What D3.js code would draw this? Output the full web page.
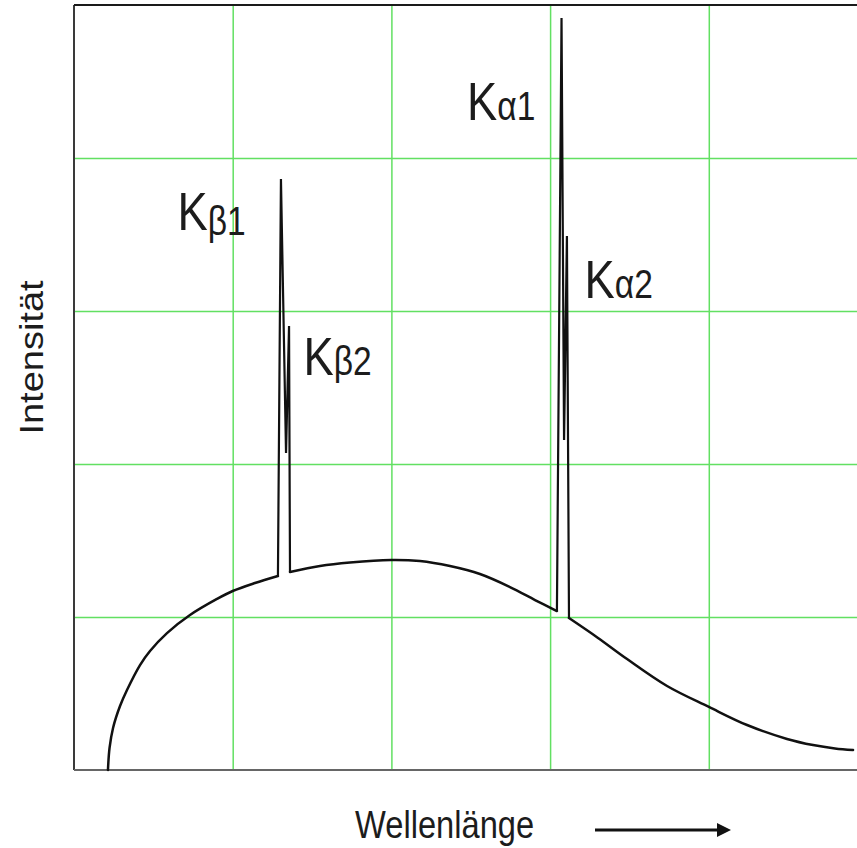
<!DOCTYPE html>
<html>
<head>
<meta charset="utf-8">
<script src="https://cdn.jsdelivr.net/npm/d3@7"></script>
<style>
  body { margin: 0; background: #fff; }
  svg { display: block; }
  text { font-family: "Liberation Sans", Arial, sans-serif; fill: #1c1c1c; }
</style>
</head>
<body>
<div class="svg-container"></div>
<script>
// grid lines, in units of one grid cell
const gridX = [1, 2, 3, 4];
const gridY = [1, 2, 3, 4];

// continuum (Bremsstrahlung), split in three pieces by the characteristic lines
const contLeftX = [0.214, 0.224, 0.246, 0.290, 0.334, 0.416, 0.479, 0.586, 0.731, 0.901, 1.0, 1.140, 1.285];
const contLeftY = [0, 0.144, 0.275, 0.418, 0.523, 0.686, 0.778, 0.895, 1.013, 1.118, 1.170, 1.222, 1.268];
const contMidX = [1.361, 1.550, 1.739, 1.997, 2.180, 2.369, 2.558, 2.747, 2.905, 3.043];
const contMidY = [1.294, 1.333, 1.356, 1.373, 1.366, 1.333, 1.281, 1.196, 1.111, 1.039];
const contRightX = [3.119, 3.302, 3.485, 3.737, 4.001, 4.241, 4.493, 4.657, 4.795, 4.909];
const contRightY = [0.993, 0.863, 0.725, 0.549, 0.412, 0.294, 0.203, 0.163, 0.141, 0.131];

// K-beta and K-alpha lines: base, peak 1, dip, peak 2, base
const kBetaX = [1.285, 1.304, 1.336, 1.355, 1.361];
const kBetaY = [1.268, 3.863, 2.072, 2.902, 1.294];
const kAlphaX = [3.043, 3.072, 3.088, 3.106, 3.119];
const kAlphaY = [1.039, 4.915, 2.157, 3.490, 0.993];

// labels
const labelMain = ['K', 'K', 'K', 'K'];
const labelSub = ['\u03B21', '\u03B22', '\u03B11', '\u03B12'];

const width = 857;
const height = 848;
const plot = { left: 74, top: 5, right: 867.5, bottom: 770 };

const svg = d3.select('.svg-container')
  .append('svg')
  .attr('width', width)
  .attr('height', height);

const x = d3.scaleLinear().domain([0, 5]).range([plot.left, plot.right]);
const y = d3.scaleLinear().domain([0, 5]).range([plot.bottom, plot.top]);

// green grid, drawn with axes
svg.append('g')
  .attr('transform', `translate(0, ${plot.bottom})`)
  .call(d3.axisBottom(x).tickValues(gridX).tickSize(-(plot.bottom - plot.top)).tickFormat(''))
  .call(g => g.select('.domain').remove())
  .call(g => g.selectAll('line').attr('stroke', '#62e062').attr('stroke-width', 1.5));

svg.append('g')
  .attr('transform', `translate(${plot.left}, 0)`)
  .call(d3.axisLeft(y).tickValues(gridY).tickSize(-(plot.right - plot.left)).tickFormat(''))
  .call(g => g.select('.domain').remove())
  .call(g => g.selectAll('line').attr('stroke', '#62e062').attr('stroke-width', 1.5));

// frame: left, bottom and top
svg.append('line')
  .attr('x1', plot.left).attr('x2', plot.left).attr('y1', plot.top).attr('y2', plot.bottom)
  .attr('stroke', '#3a3a3a').attr('stroke-width', 2);
svg.append('line')
  .attr('x1', plot.left).attr('x2', plot.right).attr('y1', plot.bottom).attr('y2', plot.bottom)
  .attr('stroke', '#666').attr('stroke-width', 2);
svg.append('line')
  .attr('x1', plot.left).attr('x2', plot.right).attr('y1', plot.top).attr('y2', plot.top)
  .attr('stroke', '#1a1a1a').attr('stroke-width', 2);

const zip = (xs, ys) => xs.map((v, i) => [v, ys[i]]);

const smooth = d3.line().x(d => x(d[0])).y(d => y(d[1])).curve(d3.curveCatmullRom.alpha(0.5));
const straight = d3.line().x(d => x(d[0])).y(d => y(d[1]));

[zip(contLeftX, contLeftY), zip(contMidX, contMidY), zip(contRightX, contRightY)].forEach(pts => {
  svg.append('path')
    .attr('d', smooth(pts))
    .attr('fill', 'none')
    .attr('stroke', '#111')
    .attr('stroke-width', 2.5)
    .attr('stroke-linecap', 'round');
});

[zip(kBetaX, kBetaY), zip(kAlphaX, kAlphaY)].forEach(pts => {
  svg.append('path')
    .attr('d', straight(pts))
    .attr('fill', 'none')
    .attr('stroke', '#111')
    .attr('stroke-width', 2.2)
    .attr('stroke-linejoin', 'miter');
});

// peak labels
const labelPos = [[177.5, 230, 5], [303.5, 375, 0], [467, 120, 0], [584.5, 298, 0]];
labelMain.forEach((m, i) => {
  const [lx, ly, shift] = labelPos[i];
  const t = svg.append('text')
    .attr('transform', `translate(${lx}, ${ly}) scale(0.84, 1)`);
  t.append('tspan').attr('font-size', 54).text(m);
  t.append('tspan').attr('font-size', 40).attr('dy', shift).text(labelSub[i]);
});

// axis titles
svg.append('text')
  .attr('transform', 'translate(43, 357.5) scale(0.86, 1) rotate(-90)')
  .attr('text-anchor', 'middle')
  .attr('font-size', 38)
  .text('Intensität');

svg.append('text')
  .attr('transform', 'translate(355, 838) scale(0.86, 1)')
  .attr('font-size', 38)
  .text('Wellenlänge');

// arrow next to the x title
svg.append('line')
  .attr('x1', 595).attr('x2', 721).attr('y1', 830).attr('y2', 830)
  .attr('stroke', '#111').attr('stroke-width', 3);
svg.append('path')
  .attr('d', 'M717,823 L731,830 L717,837 Z')
  .attr('fill', '#111');
</script>
</body>
</html>
